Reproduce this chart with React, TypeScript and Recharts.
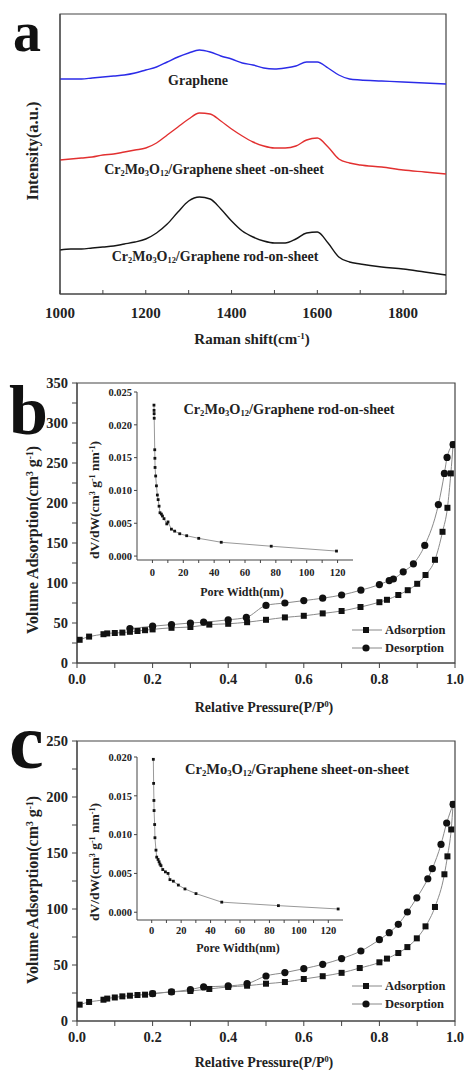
import React from 'react';
import { LineChart, Line, XAxis, YAxis, ReferenceArea, Legend } from 'recharts';

const SERIF = '"Liberation Serif", "Times New Roman", serif';
const AXIS = '#444';

// --- panel a: Raman spectra (intensity in arbitrary units) ---
const ramanShift = [1000, 1025, 1050, 1075, 1100, 1125, 1150, 1175, 1200, 1225, 1250, 1275, 1300, 1325, 1350, 1375, 1400, 1425, 1450, 1475, 1500, 1525, 1550, 1575, 1600, 1625, 1650, 1675, 1700, 1750, 1800, 1850, 1900];
const grapheneI = [215, 215, 215, 216, 217, 218, 219, 221, 224, 227, 232, 237, 241, 244, 242, 238, 235, 231, 229, 226, 225, 226, 228, 232, 232, 226, 219, 215, 214, 213, 212, 211, 210];
const sheetI = [134, 135, 136, 137, 139, 140, 142, 144, 146, 151, 159, 167, 175, 181, 180, 173, 165, 158, 152, 148, 146, 146, 148, 154, 156, 147, 135, 131, 129, 127, 124, 122, 120];
const rodI = [44, 45, 45, 46, 47, 48, 50, 52, 55, 61, 70, 82, 93, 97, 95, 85, 73, 63, 57, 53, 51, 51, 55, 61, 62, 51, 37, 32, 30, 27, 25, 22, 19];
const ramanTicks = [1000, 1100, 1200, 1300, 1400, 1500, 1600, 1700, 1800, 1900];

// --- panel b: rod-on-sheet isotherm ---
const bAdsP = [0.007, 0.032, 0.07, 0.08, 0.1, 0.12, 0.14, 0.16, 0.18, 0.2, 0.25, 0.3, 0.35, 0.4, 0.45, 0.5, 0.55, 0.6, 0.65, 0.7, 0.75, 0.8, 0.82, 0.85, 0.875, 0.9, 0.922, 0.947, 0.967, 0.98, 0.989, 0.995];
const bAdsV = [29, 33, 36, 37, 37.5, 38, 39, 40, 41, 42, 44, 45, 48, 49, 51, 54, 57, 59, 62, 65, 70, 76, 79, 85, 91, 99, 110, 129, 164, 194, 237, 273];
const bDesP = [0.995, 0.979, 0.972, 0.956, 0.92, 0.89, 0.863, 0.837, 0.826, 0.8, 0.751, 0.7, 0.65, 0.6, 0.55, 0.5, 0.448, 0.4, 0.335, 0.3, 0.25, 0.2, 0.14];
const bDesV = [273, 257, 237, 198, 147, 124, 114, 105, 103, 98, 91, 85, 81, 78, 75, 72, 57, 54, 51, 50, 48, 46, 43];
const bPoreW = [1.0, 1.05, 1.1, 1.15, 1.5, 1.6, 1.7, 2.1, 2.6, 3.2, 3.7, 4.3, 4.9, 5.8, 6.5, 7.5, 9.3, 10.1, 12.3, 14.4, 17.7, 22.2, 30, 44.6, 77, 119.3];
const bPoreD = [0.023, 0.0222, 0.0217, 0.021, 0.0162, 0.0149, 0.0135, 0.0122, 0.0107, 0.0093, 0.0086, 0.0076, 0.0066, 0.0064, 0.0061, 0.0057, 0.0049, 0.0052, 0.0041, 0.0038, 0.0034, 0.0031, 0.0027, 0.0021, 0.0015, 0.00076];

// --- panel c: sheet-on-sheet isotherm ---
const cAdsP = [0.007, 0.032, 0.07, 0.08, 0.1, 0.12, 0.14, 0.16, 0.18, 0.2, 0.25, 0.3, 0.35, 0.4, 0.45, 0.5, 0.55, 0.6, 0.65, 0.7, 0.748, 0.8, 0.82, 0.85, 0.874, 0.899, 0.922, 0.947, 0.972, 0.98, 0.99, 0.995];
const cAdsV = [14.6, 17, 19, 20, 21, 22, 22.6, 23.2, 23.5, 24.4, 26, 26.8, 28.6, 30.4, 31.5, 33.3, 34.8, 37.5, 40, 43, 47.3, 52.4, 55.7, 60.7, 66, 73.8, 84.5, 101.8, 131, 147, 171, 193.5];
const cDesP = [0.995, 0.978, 0.963, 0.94, 0.928, 0.899, 0.874, 0.85, 0.826, 0.8, 0.751, 0.7, 0.65, 0.6, 0.55, 0.5, 0.45, 0.4, 0.335, 0.3, 0.25, 0.2];
const cDesV = [193.5, 176.8, 157.7, 136, 127, 110, 97.3, 86.3, 78.9, 72.6, 62.5, 55.7, 50.6, 46.7, 43.2, 40.2, 33.3, 31.3, 30.4, 28, 26, 24.4];
const cPoreW = [1.1, 1.3, 1.5, 1.6, 2.0, 2.2, 2.9, 3.4, 4.3, 5.0, 5.6, 6.3, 7.5, 9.3, 11.1, 12.4, 14.7, 18.1, 22.6, 30.1, 47.6, 86.1, 126.7];
const cPoreD = [0.0197, 0.0166, 0.0144, 0.0131, 0.0113, 0.0096, 0.008, 0.0071, 0.0068, 0.0065, 0.0062, 0.006, 0.0055, 0.0052, 0.005, 0.0042, 0.004, 0.0035, 0.003, 0.0024, 0.0013, 0.00085, 0.00042];

const pTicks = [0, 0.1, 0.2, 0.3, 0.4, 0.5, 0.6, 0.7, 0.8, 0.9, 1.0];
const poreTicks = [0, 10, 20, 30, 40, 50, 60, 70, 80, 90, 100, 110, 120];
const legendNames = ['Adsorption', 'Desorption'];

const ramanData = ramanShift.map((s, i) => ({ shift: s, graphene: grapheneI[i], sheet: sheetI[i], rod: rodI[i] }));
const pairs = (xs: number[], ys: number[]) => xs.map((p, i) => ({ p, v: ys[i] }));

const tickA = { fill: '#222', fontSize: 15, fontWeight: 'bold', fontFamily: SERIF };
const tickStyle = { fill: '#222', fontSize: 14.5, fontWeight: 'bold', fontFamily: SERIF };
const insetTick = { fill: '#222', fontSize: 10.5, fontWeight: 'bold', fontFamily: SERIF };

const squareDot = (size: number) => (props: any) => {
  const { cx, cy, index } = props;
  if (cx == null || cy == null) return <g key={`s-${index}`} />;
  return <rect key={`s-${index}`} x={cx - size / 2} y={cy - size / 2} width={size} height={size} fill="#111" />;
};
const circleDot = (r: number) => (props: any) => {
  const { cx, cy, index } = props;
  if (cx == null || cy == null) return <g key={`c-${index}`} />;
  return <circle key={`c-${index}`} cx={cx} cy={cy} r={r} fill="#111" />;
};

const LegendBox = ({ payload }: any) => (
  <div style={{ fontFamily: SERIF, fontWeight: 'bold', fontSize: 12.5, color: '#222' }}>
    {(payload || []).map((entry: any, i: number) => (
      <div key={i} style={{ display: 'flex', alignItems: 'center', height: 18 }}>
        <svg width={32} height={12}>
          <line x1={1} x2={31} y1={6} y2={6} stroke="#888" />
          {i === 0 ? <rect x={12} y={3} width={6} height={6} fill="#111" /> : <circle cx={15} cy={6} r={3.6} fill="#111" />}
        </svg>
        <span style={{ marginLeft: 2 }}>{entry.value}</span>
      </div>
    ))}
  </div>
);

const Txt = ({ x, y, size, rotate, children }: any) => (
  <div
    style={{
      position: 'absolute', left: x, top: y,
      transform: `translate(-50%, -50%)${rotate ? ' rotate(-90deg)' : ''}`,
      fontFamily: SERIF, fontWeight: 'bold', fontSize: size, lineHeight: 1,
      whiteSpace: 'nowrap', color: '#222',
    }}
  >
    {children}
  </div>
);

const Letter = ({ x, y, size, children }: any) => (
  <div style={{ position: 'absolute', left: x, top: y, fontFamily: SERIF, fontWeight: 'bold', fontSize: size, lineHeight: 0.8, color: '#111' }}>
    {children}
  </div>
);

const sub = (t: string) => <sub style={{ fontSize: '0.6em', verticalAlign: '-0.25em' }}>{t}</sub>;
const sup = (t: string) => <sup style={{ fontSize: '0.6em', verticalAlign: '0.55em' }}>{t}</sup>;
const Formula = () => <>Cr{sub('2')}Mo{sub('3')}O{sub('12')}</>;

const Isotherm = ({ top, xHeight, plotTop, yMax, yTicks, ads, des, legendTop }: any) => (
  <div style={{ position: 'absolute', left: 0, top }}>
    <LineChart width={464} height={320} margin={{ top: plotTop, right: 9, bottom: 0, left: 0 }}>
      <XAxis dataKey="p" type="number" domain={[0, 1]} ticks={pTicks} interval={0} height={xHeight}
        tickFormatter={(v: number) => (Math.round(v * 10) % 2 === 0 ? v.toFixed(1) : '')}
        stroke={AXIS} tickSize={5} tickMargin={6} tick={tickStyle} allowDataOverflow />
      <YAxis type="number" domain={[0, yMax]} ticks={yTicks} interval={0} width={77}
        tickFormatter={(v: number) => (v % 50 === 0 ? String(v) : '')}
        stroke={AXIS} tickSize={5} tickMargin={4} tick={tickStyle} />
      <ReferenceArea x1={0} x2={1} y1={0} y2={yMax} fill="none" stroke={AXIS} strokeWidth={1.2} />
      <Legend layout="vertical" align="center" verticalAlign="middle" content={<LegendBox />}
        wrapperStyle={{ left: 351, top: legendTop, width: 113 }} />
      <Line data={ads} dataKey="v" name={legendNames[0]} type="monotone" stroke="#8a8a8a" strokeWidth={1}
        dot={squareDot(6)} isAnimationActive={false} />
      <Line data={des} dataKey="v" name={legendNames[1]} type="monotone" stroke="#8a8a8a" strokeWidth={1}
        dot={circleDot(3.6)} isAnimationActive={false} />
    </LineChart>
  </div>
);

const PoreInset = ({ left, top, width, height, plotTop, xHeight, yDomain, yTicks, data, tickMargin }: any) => (
  <div style={{ position: 'absolute', left, top }}>
    <LineChart width={width} height={height} data={data} margin={{ top: plotTop, right: 7, bottom: 0, left: 0 }}>
      <XAxis dataKey="p" type="number" domain={[-10, 130]} ticks={poreTicks} interval={0} height={xHeight}
        tickFormatter={(v: number) => (v % 20 === 0 ? String(v) : '')}
        stroke={AXIS} tickSize={3} tickMargin={tickMargin} tick={insetTick} />
      <YAxis type="number" domain={yDomain} ticks={yTicks} interval={0} width={57} allowDataOverflow
        tickFormatter={(v: number) => v.toFixed(3)} stroke={AXIS} tickSize={3} tickMargin={2} tick={insetTick} />
      <Line dataKey="v" type="linear" stroke="#999" strokeWidth={1} dot={squareDot(2.8)} isAnimationActive={false} />
    </LineChart>
  </div>
);

export default function App() {
  return (
    <div style={{ position: 'absolute', left: 0, top: 0, width: 464, height: 1072, background: '#fff', overflow: 'hidden' }}>
      {/* a */}
      <div style={{ position: 'absolute', left: 0, top: 0 }}>
        <LineChart width={464} height={320} data={ramanData} margin={{ top: 14, right: 18, bottom: 0, left: 0 }}>
          <XAxis dataKey="shift" type="number" domain={[1000, 1900]} ticks={ramanTicks} interval={0} height={26}
            tickFormatter={(v: number) => (v % 200 === 0 && v < 1900 ? String(v) : '')}
            stroke={AXIS} tickSize={-4} tickMargin={17} tick={tickA} />
          <YAxis type="number" domain={[0, 280]} width={60} tick={false} tickLine={false} stroke={AXIS} />
          <ReferenceArea x1={1000} x2={1900} y1={0} y2={280} fill="none" stroke={AXIS} strokeWidth={1.2} />
          <Line dataKey="graphene" type="monotone" stroke="#2b2be8" strokeWidth={1.4} dot={false} isAnimationActive={false} />
          <Line dataKey="sheet" type="monotone" stroke="#e23030" strokeWidth={1.4} dot={false} isAnimationActive={false} />
          <Line dataKey="rod" type="monotone" stroke="#161616" strokeWidth={1.4} dot={false} isAnimationActive={false} />
        </LineChart>
      </div>

      {/* b */}
      <Isotherm top={370} plotTop={13} xHeight={27} yMax={350}
        yTicks={[0, 25, 50, 75, 100, 125, 150, 175, 200, 225, 250, 275, 300, 325, 350]}
        ads={pairs(bAdsP, bAdsV)} des={pairs(bDesP, bDesV)} legendTop={251} />
      <PoreInset left={80} top={385} width={280} height={215} plotTop={7} xHeight={40} tickMargin={6}
        yDomain={[-0.0006, 0.025]} yTicks={[0, 0.005, 0.01, 0.015, 0.02, 0.025]} data={pairs(bPoreW, bPoreD)} />

      {/* c */}
      <Isotherm top={730} plotTop={11} xHeight={29} yMax={250}
        yTicks={[0, 25, 50, 75, 100, 125, 150, 175, 200, 225, 250]}
        ads={pairs(cAdsP, cAdsV)} des={pairs(cDesP, cDesV)} legendTop={247} />
      <PoreInset left={80} top={750} width={270} height={210} plotTop={7} xHeight={40} tickMargin={4}
        yDomain={[-0.001, 0.02]} yTicks={[0, 0.005, 0.01, 0.015, 0.02]} data={pairs(cPoreW, cPoreD)} />

      {/* text */}
      <Letter x={13} y={10} size={56}>a</Letter>
      <Letter x={9} y={383} size={70}>b</Letter>
      <Letter x={9} y={711} size={78}>c</Letter>

      <Txt x={198} y={81} size={14}>Graphene</Txt>
      <Txt x={214} y={171} size={14}><Formula />/Graphene sheet -on-sheet</Txt>
      <Txt x={215} y={258} size={14}><Formula />/Graphene rod-on-sheet</Txt>
      <Txt x={33} y={151} size={16.5} rotate>Intensity(a.u.)</Txt>
      <Txt x={252} y={339} size={15}>Raman shift(cm{sup('-1')})</Txt>

      <Txt x={289} y={410} size={14.3}><Formula />/Graphene rod-on-sheet</Txt>
      <Txt x={95} y={500} size={13.5} rotate>dV/dW(cm{sup('3')} g{sup('-1')} nm{sup('-1')})</Txt>
      <Txt x={242} y={592} size={12}>Pore Width(nm)</Txt>
      <Txt x={33} y={540} size={16} rotate>Volume Adsorption(cm{sup('3')} g{sup('-1')})</Txt>
      <Txt x={264} y={708} size={14}>Relative Pressure(P/P{sup('0')})</Txt>

      <Txt x={297} y={770} size={14.5}><Formula />/Graphene sheet-on-sheet</Txt>
      <Txt x={95} y={862} size={13.5} rotate>dV/dW(cm{sup('3')} g{sup('-1')} nm{sup('-1')})</Txt>
      <Txt x={238} y={948} size={12}>Pore Width(nm)</Txt>
      <Txt x={33} y={890} size={16} rotate>Volume Adsorption(cm{sup('3')} g{sup('-1')})</Txt>
      <Txt x={264} y={1063} size={14}>Relative Pressure(P/P{sup('0')})</Txt>
    </div>
  );
}
